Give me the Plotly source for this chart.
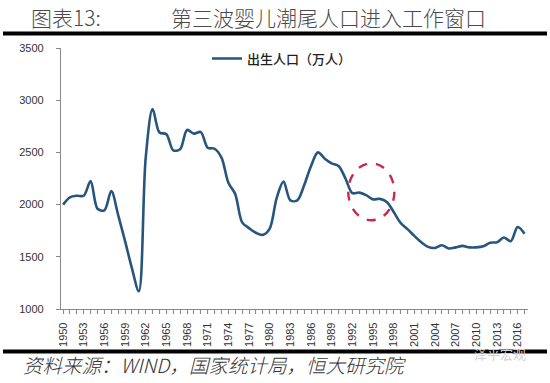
import plotly.graph_objects as go

years = list(range(1950, 2018))
births = [2000, 2070, 2085, 2085, 2225, 1960, 1945, 2130, 1900, 1650,
          1390, 1170, 2450, 2915, 2690, 2675, 2520, 2530, 2715, 2680,
          2695, 2545, 2535, 2450, 2210, 2100, 1830, 1775, 1730, 1710,
          1770, 2060, 2220, 2040, 2040, 2185, 2370, 2500, 2440, 2395,
          2370, 2250, 2110, 2115, 2090, 2050, 2055, 2025, 1930, 1825,
          1765, 1700, 1640, 1595, 1585, 1610, 1580, 1590, 1605, 1590,
          1590, 1600, 1635, 1640, 1685, 1650, 1785, 1720]
tick_years = list(range(1950, 2017, 3))
tick_labels = [str(y) for y in tick_years]
series_name = "出生人口（万人）"
highlight_years = [1991.4, 1998.1]
highlight_values = [1850, 2395]

W, H = 550, 383
L, R, T, B = 61, 22, 47.5, 74

fig = go.Figure()
fig.add_trace(go.Scatter(
    x=years, y=births, mode="lines", name=series_name,
    line=dict(color="#27557d", width=2.6, shape="spline", smoothing=0.9),
))

fig.add_shape(type="circle", xref="x", yref="y",
              x0=highlight_years[0], x1=highlight_years[1],
              y0=highlight_values[0], y1=highlight_values[1],
              line=dict(color="#c8284e", width=2.4, dash="dash"))


def px(xp):
    return (xp - L) / (W - L - R)


def py(yp):
    return (H - B - yp) / (H - T - B)


# header rule and footer rule
fig.add_shape(type="line", xref="paper", yref="paper",
              x0=px(3), x1=px(547), y0=py(33), y1=py(33),
              line=dict(color="#000000", width=4))
fig.add_shape(type="line", xref="paper", yref="paper",
              x0=px(3), x1=px(547), y0=py(351.5), y1=py(351.5),
              line=dict(color="#000000", width=4))

fig.add_annotation(text="图表13:", xref="paper", yref="paper",
                   x=px(29), y=py(16), xanchor="left", yanchor="middle",
                   showarrow=False,
                   font=dict(family="Noto Sans CJK SC", size=21, color="#4a4a4a", weight=300))
fig.add_annotation(text="第三波婴儿潮尾人口进入工作窗口", xref="paper", yref="paper",
                   x=px(328), y=py(16), xanchor="center", yanchor="middle",
                   showarrow=False,
                   font=dict(family="Noto Sans CJK SC", size=21, color="#4a4a4a", weight=300))
fig.add_annotation(text="<i>资料来源：WIND，国家统计局，恒大研究院</i>", xref="paper", yref="paper",
                   x=px(21), y=py(365), xanchor="left", yanchor="middle",
                   showarrow=False,
                   font=dict(family="Noto Sans CJK SC", size=19.5, color="#333333", weight=300))
fig.add_annotation(text="泽平宏观", xref="paper", yref="paper",
                   x=px(500), y=py(354), xanchor="center", yanchor="middle",
                   showarrow=False,
                   font=dict(family="Noto Sans CJK SC", size=13, color="#d0d0d0"))

fig.update_layout(
    width=W, height=H,
    margin=dict(l=L, r=R, t=T, b=B, pad=0),
    paper_bgcolor="white", plot_bgcolor="white",
    showlegend=True,
    legend=dict(x=px(207), y=py(58), xanchor="left", yanchor="middle",
                bgcolor="rgba(0,0,0,0)", borderwidth=0,
                font=dict(family="Noto Sans CJK SC", size=13, color="#222222", weight=500),
                itemwidth=30),
    font=dict(family="Liberation Sans", color="#333333"),
)
fig.update_xaxes(
    range=[1949.7, 2017.5], showgrid=False, zeroline=False,
    showline=True, linecolor="#888888", linewidth=1.2,
    tickmode="array", tickvals=tick_years, ticktext=tick_labels,
    tickangle=-90, ticks="outside", ticklen=4, tickcolor="#888888",
    tickfont=dict(family="Liberation Sans", size=11, color="#333333"),
    minor=dict(dtick=1, tick0=1950, ticks="outside", ticklen=4, tickcolor="#888888"),
    ticklabelstandoff=4,
)
fig.update_yaxes(
    range=[1000, 3500], dtick=500, showgrid=False, zeroline=False,
    showline=True, linecolor="#888888", linewidth=1.2,
    ticks="outside", ticklen=4, tickcolor="#888888",
    tickfont=dict(family="Liberation Sans", size=11, color="#333333"),
    ticklabelstandoff=10,
)

fig.write_html("out.html", config={"displayModeBar": False},
               post_script="document.body.style.margin='0';document.body.style.padding='0';")
